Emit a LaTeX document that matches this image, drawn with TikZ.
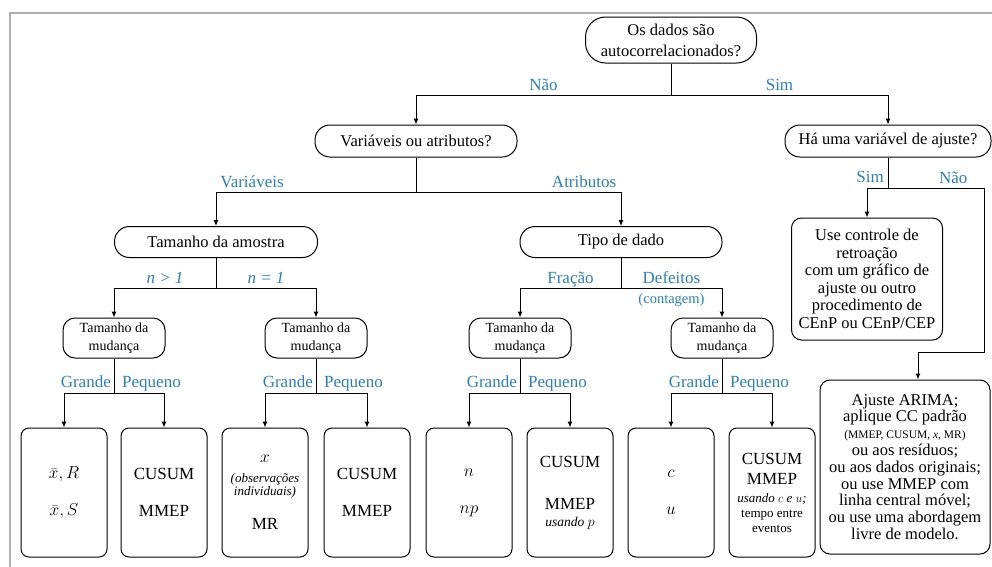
\documentclass[tikz,border=0pt]{standalone}
\usepackage{fontspec}
\setmainfont{Liberation Serif}
\usepackage{amsmath}
\usetikzlibrary{positioning,arrows.meta}
\definecolor{labelColor}{RGB}{46,127,174}
\definecolor{frameColor}{RGB}{175,175,175}
\tikzstyle{flowchart} = [x = 1pt, y = -1pt]
\tikzstyle{lineStyle} = [draw, line width = 1pt]
\tikzstyle{arrowStyle} = [lineStyle, -{Latex[length = 6pt, width = 5pt]}]
\tikzstyle{questionStyle} = [draw, line width = 1pt, rounded corners = 15pt, align = center, inner sep = 2pt, font = \fontsize{16.5}{21}\selectfont]
\tikzstyle{changeStyle} = [questionStyle, rounded corners = 12pt, minimum width = 102pt, minimum height = 40pt, font = \fontsize{14}{18}\selectfont]
\tikzstyle{chartStyle} = [draw, line width = 1pt, rounded corners = 8pt, minimum width = 86pt, minimum height = 129pt, align = center, font = \fontsize{17}{18}\selectfont]
\tikzstyle{adviceStyle} = [draw, line width = 1pt, rounded corners = 10pt, align = center, font = \fontsize{16.5}{17.5}\selectfont]
\tikzstyle{branchText} = [text = labelColor, font = \fontsize{17}{20}\selectfont, inner sep = 1pt, text height = 12pt, text depth = 3.5pt]
\newcommand{\smallText}{\fontsize{13}{15}\selectfont}
\newcommand{\labeledFork}[7]{
  \draw [lineStyle] (#1.south) -- (#2);
  \draw [arrowStyle] (#2) -| node [branchText, above, pos = #7] (#2Left) {#5} (#3.north);
  \draw [arrowStyle] (#2) -| node [branchText, above, pos = #7] (#2Right) {#6} (#4.north);
}
\newcommand{\sizeFork}[4]{
  \draw [lineStyle] (#1.south) -- (#2);
  \draw [arrowStyle] (#2) -| (#3.north);
  \draw [arrowStyle] (#2) -| (#4.north);
  \node [branchText, above left = 1pt and 2pt of #2] (#2Big) {Grande};
  \node [branchText, above right = 1pt and 7pt of #2] (#2Small) {Pequeno};
}

\begin{document}
\begin{tikzpicture}[flowchart]
  \useasboundingbox (0,0) rectangle (992,566);
  \draw [frameColor, line width = 1.5pt] (10,600) -- (10,13) -- (1010,13);

  % questions
  \node [questionStyle, minimum width = 171pt, minimum height = 46pt, rounded corners = 20pt] (autoQuestion) at (671,40) {Os dados são\\autocorrelacionados?};
  \node [questionStyle, minimum width = 202pt, minimum height = 32pt] (varQuestion) at (416,141) {Variáveis ou atributos?};
  \node [questionStyle, minimum width = 206pt, minimum height = 32pt] (adjQuestion) at (888,141) {Há uma variável de ajuste?};
  \node [questionStyle, minimum width = 203pt, minimum height = 31pt] (sampleSize) at (216,242) {Tamanho da amostra};
  \node [questionStyle, minimum width = 202pt, minimum height = 31pt] (dataType) at (621,242) {Tipo de dado};
  \foreach \name/\xPos in {changeA/114, changeB/316, changeC/520, changeD/722}
    \node [changeStyle] (\name) at (\xPos,338) {Tamanho da\\mudança};

  % charts
  \node [chartStyle] (chartA) at (64,492.5) {$\bar{x}, R$\\[19pt]$\bar{x}, S$};
  \node [chartStyle] (chartB) at (164,492.5) {CUSUM\\[19pt]MMEP};
  \node [chartStyle] (chartC) at (265,492.5) {$x$\\[2pt]{\smallText\itshape (observações}\\[-5pt]{\smallText\itshape individuais)}\\[16pt]MR};
  \node [chartStyle] (chartD) at (367,492.5) {CUSUM\\[19pt]MMEP};
  \node [chartStyle] (chartE) at (469,492.5) {$n$\\[19pt]$np$};
  \node [chartStyle] (chartF) at (570,492.5) {CUSUM\\[24pt]MMEP\\[-1pt]{\fontsize{13.5}{15}\selectfont\itshape usando $p$}};
  \node [chartStyle] (chartG) at (671,492.5) {$c$\\[19pt]$u$};
  \node [chartStyle] (chartH) at (772,492.5) {CUSUM\\[2pt]MMEP\\{\smallText\itshape usando $c$ e $u$;}\\[-3pt]{\smallText tempo entre}\\[-3pt]{\smallText eventos}};

  % autocorrelated side
  \node [adviceStyle, minimum width = 151pt, minimum height = 122pt] (feedback) at (867,279) {Use controle de\\retroação\\com um gráfico de\\ajuste ou outro\\procedimento de\\CEnP ou CEnP/CEP};
  \node [adviceStyle, minimum width = 170pt, minimum height = 174pt, font = \fontsize{16.5}{16.8}\selectfont] (arima) at (905,467) {Ajuste ARIMA;\\aplique CC padrão\\{\fontsize{11.5}{13}\selectfont (MMEP, CUSUM, \textit{x}, MR)}\\ou aos resíduos;\\ou aos dados originais;\\ou use MMEP com\\linha central móvel;\\ou use uma abordagem\\livre de modelo.};

  % forks
  \coordinate (autoFork) at (autoQuestion.south |- 0,95);
  \coordinate (varFork) at (varQuestion.south |- 0,192);
  \coordinate (sampleFork) at (sampleSize.south |- 0,288);
  \coordinate (typeFork) at (dataType.south |- 0,288);
  \labeledFork{autoQuestion}{autoFork}{varQuestion}{adjQuestion}{Não}{Sim}{0.25}
  \labeledFork{varQuestion}{varFork}{sampleSize}{dataType}{Variáveis}{Atributos}{0.41}
  \labeledFork{sampleSize}{sampleFork}{changeA}{changeB}{\textit{n > 1}}{\textit{n = 1}}{0.25}
  \labeledFork{dataType}{typeFork}{changeC}{changeD}{Fração}{Defeitos}{0.25}
  \node [branchText, font = \fontsize{14.5}{16}\selectfont, below = 2pt of typeForkRight] (countText) {(contagem)};

  \foreach \name/\first/\second in {changeA/chartA/chartB, changeB/chartC/chartD, changeC/chartE/chartF, changeD/chartG/chartH} {
    \coordinate (\name Fork) at (\name.south |- 0,393);
    \sizeFork{\name}{\name Fork}{\first}{\second}
  }

  % adjustment variable
  \coordinate (adjFork) at (adjQuestion.south |- 0,188);
  \coordinate (noCorner) at (984,352);
  \coordinate (arimaEntry) at ([xshift = 13pt]arima.north);
  \draw [lineStyle] (adjQuestion.south) -- (adjFork);
  \draw [arrowStyle] (adjFork) -| (feedback.north);
  \draw [arrowStyle] (adjFork) -| node [branchText, above, pos = 0.34] (adjNo) {Não} (noCorner) -| (arimaEntry);
  \node [branchText, above left = 1pt and 3pt of adjFork] (adjYes) {Sim};
\end{tikzpicture}
\end{document}
